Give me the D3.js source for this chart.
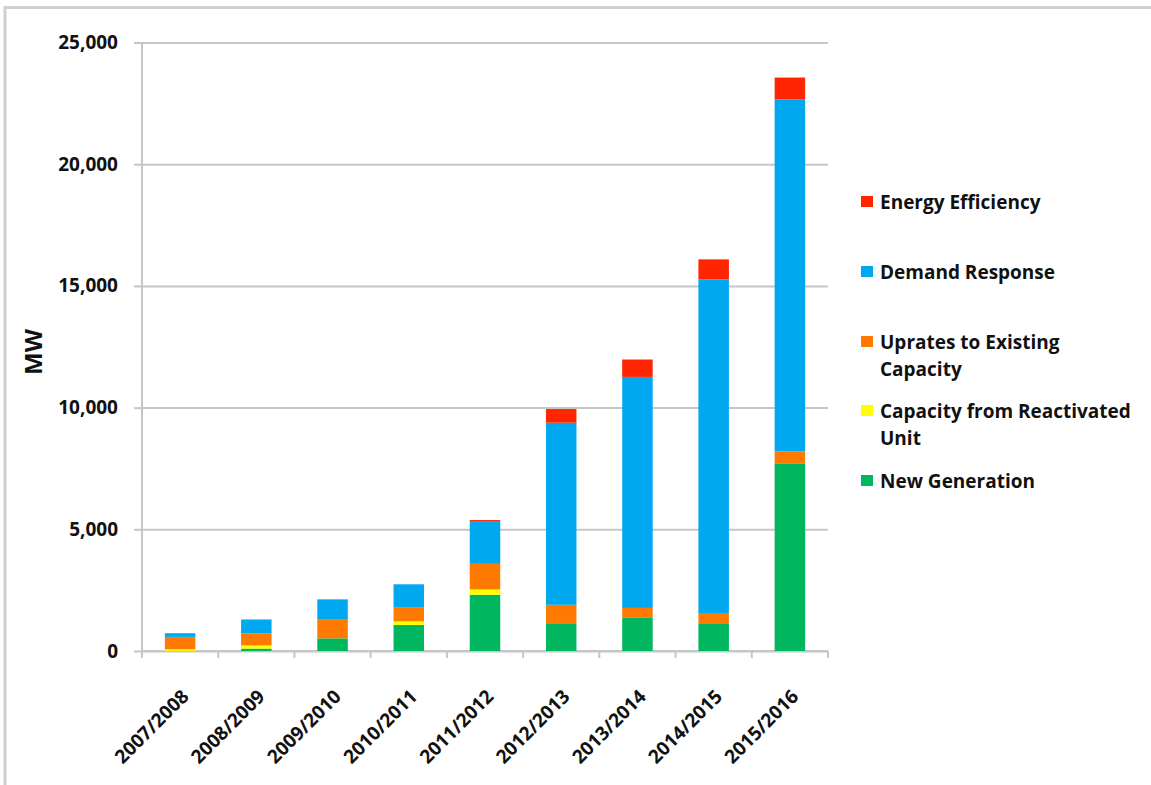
<!DOCTYPE html>
<html lang="en">
  <head>
    <meta charset="UTF-8" />
    <title>Capacity by delivery year</title>
    <script src="https://d3js.org/d3.v7.min.js"></script>
    <style>
      body { margin: 0; background: #fff; }
      text { font-family: 'Open Sans', Lato, sans-serif; font-weight: 700; fill: #111; }
    </style>
  </head>
  <body>
    <div id="chart"></div>
    <script>
      // values, MW
      const years = ['2007/2008', '2008/2009', '2009/2010', '2010/2011', '2011/2012',
        '2012/2013', '2013/2014', '2014/2015', '2015/2016'];
      const newGeneration = [0, 100, 520, 1070, 2310, 1140, 1360, 1140, 7710];
      const reactivated = [70, 130, 0, 150, 220, 0, 0, 0, 0];
      const uprates = [510, 490, 765, 560, 1050, 760, 410, 420, 490];
      const demandResponse = [150, 575, 837, 960, 1730, 7480, 9490, 13710, 14460];
      const energyEfficiency = [0, 0, 0, 0, 70, 560, 715, 820, 900];
      const yTicks = [0, 5000, 10000, 15000, 20000, 25000];

      const seriesKeys = ['ng', 'reac', 'upr', 'dr', 'ee'];
      const seriesNames = {
        ee: ['Energy Efficiency'],
        dr: ['Demand Response'],
        upr: ['Uprates to Existing', 'Capacity'],
        reac: ['Capacity from Reactivated', 'Unit'],
        ng: ['New Generation'],
      };
      const colors = { ng: '#00b760', reac: '#ffff00', upr: '#ff7a00', dr: '#00a8f0', ee: '#ff2500' };

      const rows = years.map((y, i) => ({
        year: y,
        ng: newGeneration[i],
        reac: reactivated[i],
        upr: uprates[i],
        dr: demandResponse[i],
        ee: energyEfficiency[i],
      }));

      const width = 1151;
      const height = 785;
      const plotLeft = 142, plotRight = 828, plotTop = 42.5, plotBottom = 651;

      const svg = d3.select('#chart').append('svg')
        .attr('width', width).attr('height', height);

      // frame
      svg.append('path')
        .attr('d', `M5,${height} V7.5 H${width}`)
        .attr('fill', 'none').attr('stroke', '#cfcfcf').attr('stroke-width', 3);

      const x = d3.scaleBand().domain(years).range([plotLeft, plotRight]).paddingInner(0.6).paddingOuter(0.3);
      const y = d3.scaleLinear().domain([0, 25000]).range([plotBottom, plotTop]);

      // gridlines + y axis
      svg.append('g')
        .attr('transform', `translate(${plotLeft},0)`)
        .call(d3.axisLeft(y).tickValues(yTicks).tickSize(-(plotRight - plotLeft)).tickFormat(''))
        .call((g) => g.select('.domain').remove())
        .call((g) => g.selectAll('line').attr('stroke', '#c6c6c6').attr('stroke-width', 2));

      const yAxis = svg.append('g')
        .attr('transform', `translate(${plotLeft},0)`)
        .call(d3.axisLeft(y).tickValues(yTicks).tickSize(8).tickPadding(16).tickFormat(d3.format(',')));
      yAxis.select('.domain').attr('stroke', '#c6c6c6').attr('stroke-width', 2)
        .attr('d', `M0,${plotTop} V${plotBottom}`);
      yAxis.selectAll('line').attr('stroke', '#c6c6c6').attr('stroke-width', 2);
      yAxis.selectAll('text').style('font-size', '19px').attr('fill', '#111');

      svg.append('text')
        .attr('transform', `translate(42,352) rotate(-90)`)
        .attr('text-anchor', 'middle')
        .style('font-size', '24px')
        .text('MW');

      // x axis with ticks on band edges
      const edges = d3.range(years.length + 1).map((i) => plotLeft + i * (plotRight - plotLeft) / years.length);
      const xAxis = svg.append('g');
      xAxis.append('line')
        .attr('x1', plotLeft).attr('x2', plotRight).attr('y1', plotBottom).attr('y2', plotBottom)
        .attr('stroke', '#c6c6c6').attr('stroke-width', 2);
      xAxis.selectAll('.tick').data(edges).join('line')
        .attr('x1', (d) => d).attr('x2', (d) => d)
        .attr('y1', plotBottom).attr('y2', plotBottom + 7)
        .attr('stroke', '#c6c6c6').attr('stroke-width', 2);
      xAxis.selectAll('.lbl').data(years).join('text')
        .attr('transform', (d) => `translate(${x(d) + x.bandwidth() / 2 + 5},${plotBottom + 42}) rotate(-45)`)
        .attr('text-anchor', 'end')
        .attr('dy', '0.35em')
        .style('font-size', '19px')
        .text((d) => d);

      // stacked bars
      const stacked = d3.stack().keys(seriesKeys)(rows);
      svg.append('g').selectAll('g').data(stacked).join('g')
        .attr('fill', (s) => colors[s.key])
        .selectAll('rect').data((s) => s).join('rect')
        .attr('x', (d) => x(d.data.year))
        .attr('width', x.bandwidth())
        .attr('y', (d) => y(d[1]))
        .attr('height', (d) => y(d[0]) - y(d[1]));

      // legend
      const legendItems = [
        { key: 'ee', y: 202 },
        { key: 'dr', y: 272 },
        { key: 'upr', y: 342 },
        { key: 'reac', y: 411 },
        { key: 'ng', y: 481 },
      ];
      const legend = svg.append('g');
      const item = legend.selectAll('g').data(legendItems).join('g')
        .attr('transform', (d) => `translate(861,${d.y})`);
      item.append('rect')
        .attr('x', 0).attr('y', -6).attr('width', 12).attr('height', 11)
        .attr('fill', (d) => colors[d.key]);
      item.append('text')
        .attr('x', 19)
        .style('font-size', '19px')
        .selectAll('tspan').data((d) => seriesNames[d.key]).join('tspan')
        .attr('x', 19)
        .attr('y', (d, i) => 7 + i * 27)
        .text((d) => d);
    </script>
  </body>
</html>
